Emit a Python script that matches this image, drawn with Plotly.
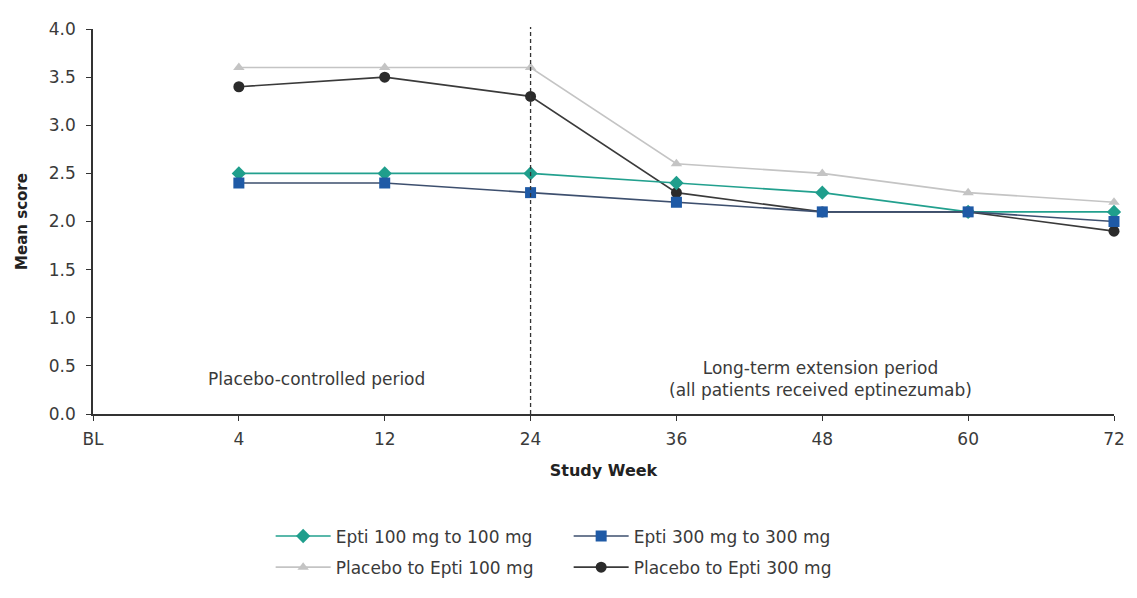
import plotly.graph_objects as go

weeks = ["BL", "4", "12", "24", "36", "48", "60", "72"]
data_weeks = ["4", "12", "24", "36", "48", "60", "72"]
epti100 = [2.5, 2.5, 2.5, 2.4, 2.3, 2.1, 2.1]
epti300 = [2.4, 2.4, 2.3, 2.2, 2.1, 2.1, 2.0]
pbo100 = [3.6, 3.6, 3.6, 2.6, 2.5, 2.3, 2.2]
pbo300 = [3.4, 3.5, 3.3, 2.3, 2.1, 2.1, 1.9]

font = "DejaVu Sans, Liberation Sans, Arial, sans-serif"
txt = "#3a3a3a"
FS = 17

fig = go.Figure()
fig.add_trace(go.Scatter(x=data_weeks, y=pbo100, name="Placebo to Epti 100 mg", mode="lines+markers",
                         line=dict(color="#c4c4c4", width=1.6),
                         marker=dict(symbol="triangle-up", size=10, color="#c4c4c4"),
                         cliponaxis=False, legend="legend2"))
fig.add_trace(go.Scatter(x=data_weeks, y=pbo300, name="Placebo to Epti 300 mg", mode="lines+markers",
                         line=dict(color="#3a3a3a", width=1.6),
                         marker=dict(symbol="circle", size=11, color="#2b2b2b"),
                         cliponaxis=False, legend="legend2"))
fig.add_trace(go.Scatter(x=data_weeks, y=epti100, name="Epti 100 mg to 100 mg", mode="lines+markers",
                         line=dict(color="#22a08e", width=1.6),
                         marker=dict(symbol="diamond", size=11, color="#1f9e8c"),
                         cliponaxis=False, legend="legend"))
fig.add_trace(go.Scatter(x=data_weeks, y=epti300, name="Epti 300 mg to 300 mg", mode="lines+markers",
                         line=dict(color="#3d4f6e", width=1.6),
                         marker=dict(symbol="square", size=11, color="#1f5aa6"),
                         cliponaxis=False, legend="legend"))

xi24 = weeks.index("24")
fig.add_shape(type="line", xref="x", yref="paper", x0=xi24, x1=xi24, y0=0, y1=1.005,
              line=dict(color="#333333", width=1.3, dash="4px,3px"))

fig.add_annotation(x=0.219, xref="paper", xanchor="center", y=0.365, yref="y",
                   text="Placebo-controlled period",
                   showarrow=False, font=dict(family=font, size=FS, color=txt))
fig.add_annotation(x=0.713, xref="paper", xanchor="center", y=0.365, yref="y",
                   text="Long-term extension period<br>(all patients received eptinezumab)",
                   showarrow=False, font=dict(family=font, size=FS, color=txt))

legend_common = dict(orientation="h", xanchor="left", yanchor="middle",
                     font=dict(family=font, size=FS, color=txt), entrywidth=228,
                     traceorder="normal", bgcolor="rgba(0,0,0,0)", itemwidth=55)

fig.update_layout(
    width=1137, height=598,
    margin=dict(l=93, r=16, t=29, b=175),
    plot_bgcolor="white", paper_bgcolor="white",
    font=dict(family=font, size=FS, color=txt),
    xaxis=dict(type="category", categoryorder="array", categoryarray=weeks,
               tickvals=weeks, range=[0, 7], showline=True, linecolor="#333333", linewidth=1.5,
               ticks="outside", ticklen=5, tickcolor="#333333", showgrid=False, zeroline=False,
               ticklabelstandoff=4,
               title=dict(text="<b>Study Week</b>", font=dict(family=font, size=16, color="#222222"), standoff=17)),
    yaxis=dict(range=[0, 4], dtick=0.5, tickformat=".1f", showline=True, linecolor="#333333", linewidth=1.5,
               ticks="outside", ticklen=5, tickcolor="#333333", showgrid=False, zeroline=False,
               ticklabelstandoff=7,
               title=dict(text="<b>Mean score</b>", font=dict(family=font, size=15, color="#222222"), standoff=18)),
    legend=dict(x=0.174, y=-0.318, **legend_common),
    legend2=dict(x=0.174, y=-0.399, **legend_common),
)

fig.write_html("out.html")
